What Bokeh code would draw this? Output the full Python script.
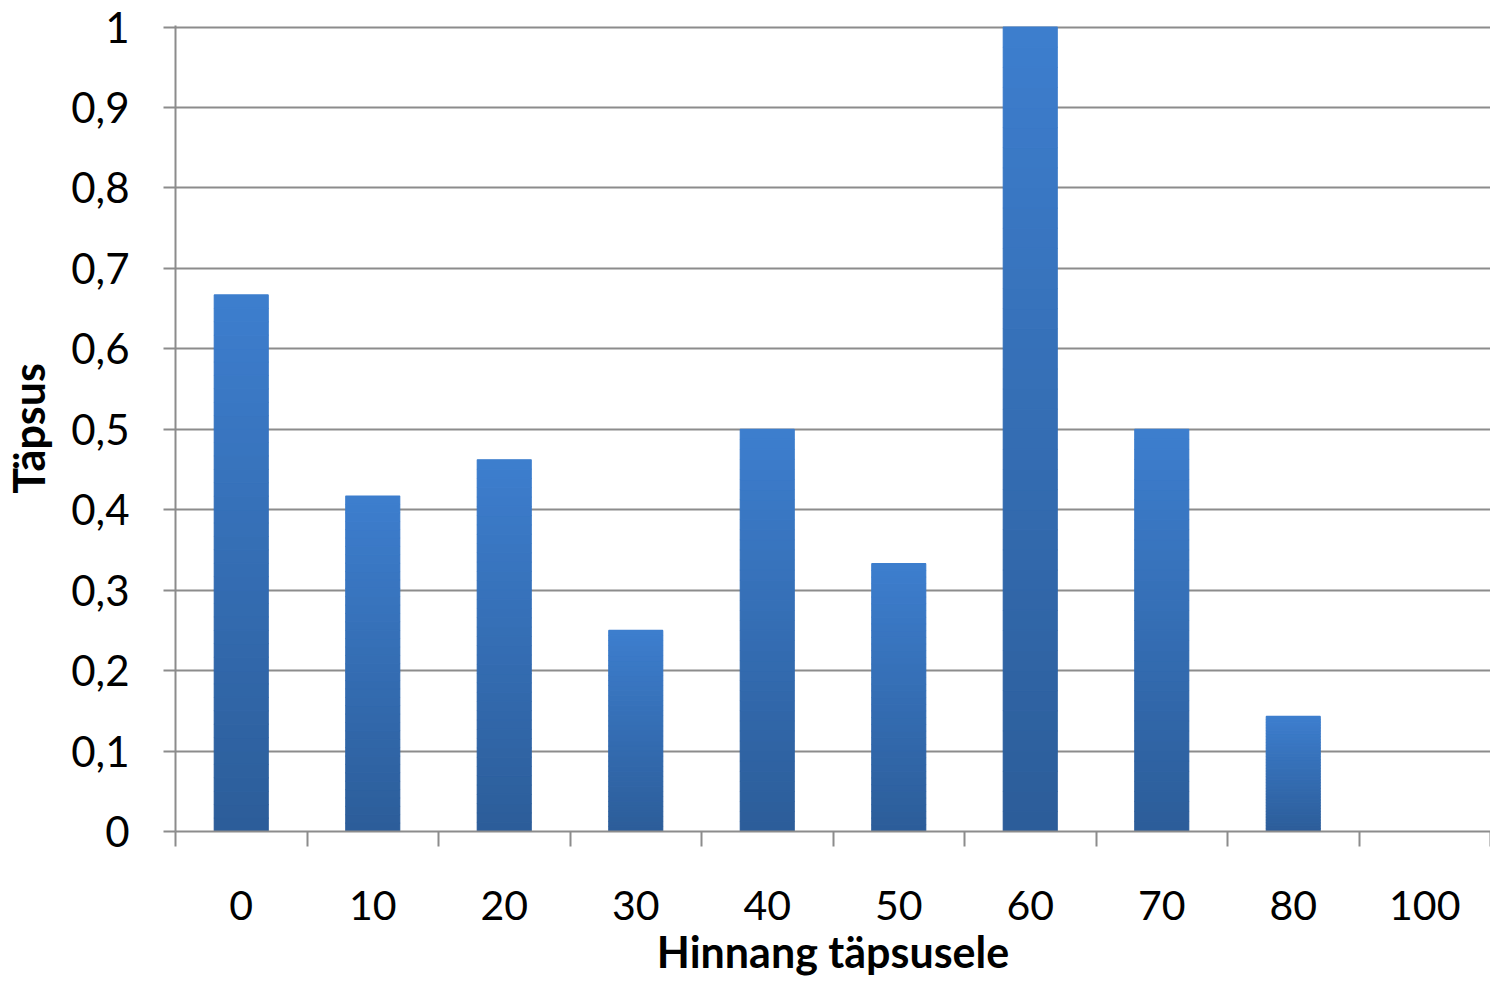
from bokeh.plotting import figure
from bokeh.models import Range1d, FixedTicker, ColumnDataSource
from bokeh.embed import file_html
from bokeh.resources import INLINE

categories = ["0", "10", "20", "30", "40", "50", "60", "70", "80", "100"]
values = [0.667, 0.417, 0.462, 0.25, 0.5, 0.333, 1.0, 0.5, 0.143, 0.0]
y_ticks = [0.0, 0.1, 0.2, 0.3, 0.4, 0.5, 0.6, 0.7, 0.8, 0.9, 1.0]
y_labels = ["0", "0,1", "0,2", "0,3", "0,4", "0,5", "0,6", "0,7", "0,8", "0,9", "1"]

FONT = "Lato"
GRID = "#8c8c8c"
TOP_RGB = (61, 126, 206)
BOT_RGB = (44, 93, 153)
N = 40

p = figure(width=1490, height=979, output_backend="svg", toolbar_location=None,
           x_range=Range1d(0, len(categories)), y_range=Range1d(0, 1.002),
           min_border_left=169, min_border_right=0, min_border_top=25, min_border_bottom=0)
p.outline_line_color = None
p.background_fill_color = "white"
p.border_fill_color = "white"

# gradient bars: each bar split into horizontal slices
xs, bottoms, tops, colors = [], [], [], []
for i, v in enumerate(values):
    if v <= 0:
        continue
    for k in range(N):
        t = (k + 0.5) / N
        r = round(BOT_RGB[0] + (TOP_RGB[0] - BOT_RGB[0]) * t)
        g = round(BOT_RGB[1] + (TOP_RGB[1] - BOT_RGB[1]) * t)
        b = round(BOT_RGB[2] + (TOP_RGB[2] - BOT_RGB[2]) * t)
        xs.append(i + 0.5)
        bottoms.append(v * k / N)
        tops.append(v * (k + 1) / N)
        colors.append("#%02x%02x%02x" % (r, g, b))
src = ColumnDataSource(dict(x=xs, bottom=bottoms, top=tops, color=colors))
p.vbar(x="x", bottom="bottom", top="top", width=0.41, fill_color="color",
       line_color="color", line_width=1.2, source=src)

# x axis
p.xaxis.ticker = FixedTicker(ticks=[i + 0.5 for i in range(len(categories))],
                             minor_ticks=list(range(len(categories) + 1)))
p.xaxis.major_label_overrides = {i + 0.5: c for i, c in enumerate(categories)}
p.xaxis.major_tick_line_color = None
p.xaxis.major_tick_out = 0
p.xaxis.major_tick_in = 0
p.xaxis.minor_tick_line_color = GRID
p.xaxis.minor_tick_line_width = 2
p.xaxis.minor_tick_out = 15
p.xaxis.minor_tick_in = 0
p.xaxis.axis_line_color = GRID
p.xaxis.axis_line_width = 2
p.xaxis.major_label_text_font = FONT
p.xaxis.major_label_text_font_size = "41px"
p.xaxis.major_label_text_color = "black"
p.xaxis.major_label_standoff = 44
p.xaxis.axis_label = "Hinnang täpsusele"
p.xaxis.axis_label_text_font = FONT
p.xaxis.axis_label_text_font_size = "43px"
p.xaxis.axis_label_text_font_style = "bold"
p.xaxis.axis_label_text_color = "black"
p.xaxis.axis_label_standoff = 3

# y axis
p.yaxis.ticker = FixedTicker(ticks=y_ticks, minor_ticks=[])
p.yaxis.major_label_overrides = {t: l for t, l in zip(y_ticks, y_labels)}
p.yaxis.major_tick_line_color = GRID
p.yaxis.major_tick_line_width = 2
p.yaxis.major_tick_out = 12
p.yaxis.major_tick_in = 0
p.yaxis.axis_line_color = GRID
p.yaxis.axis_line_width = 2
p.yaxis.major_label_text_font = FONT
p.yaxis.major_label_text_font_size = "42px"
p.yaxis.major_label_text_color = "black"
p.yaxis.major_label_standoff = 34
p.yaxis.axis_label = "Täpsus"
p.yaxis.axis_label_text_font = FONT
p.yaxis.axis_label_text_font_size = "43px"
p.yaxis.axis_label_text_font_style = "bold"
p.yaxis.axis_label_text_color = "black"
p.yaxis.axis_label_standoff = 14

p.xgrid.grid_line_color = None
p.ygrid.ticker = FixedTicker(ticks=y_ticks)
p.ygrid.grid_line_color = GRID
p.ygrid.grid_line_width = 2

open("out.html", "w").write(file_html(p, INLINE))
